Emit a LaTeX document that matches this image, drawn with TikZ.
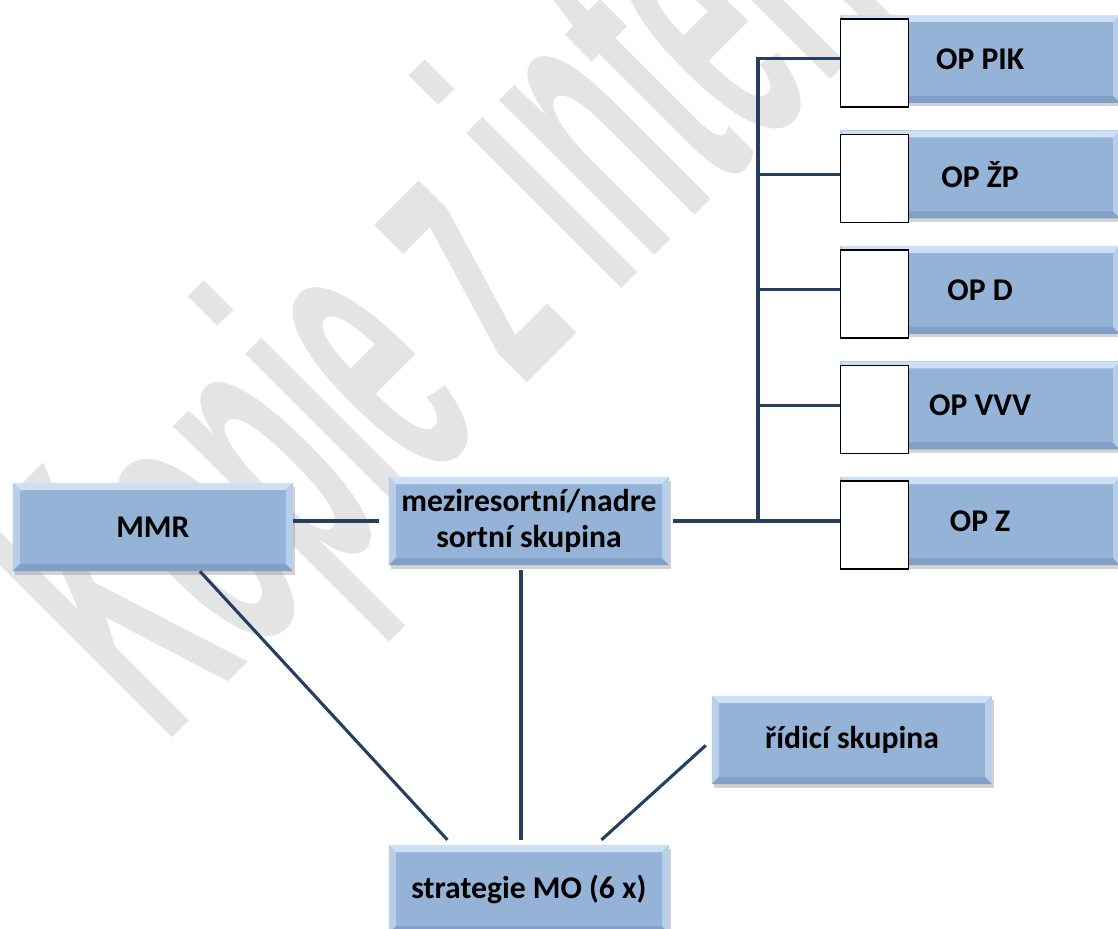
\documentclass[tikz,border=0pt]{standalone}
\usepackage{fontspec}
\setmainfont{Carlito}
\newfontfamily\wmfamily{Liberation Sans}
\usetikzlibrary{positioning,shadows}

\definecolor{boxblue}{RGB}{149,179,215}
\definecolor{boxhi}{RGB}{206,224,245}
\definecolor{boxside}{RGB}{184,206,233}
\definecolor{boxlo}{RGB}{130,160,199}
\definecolor{linkblue}{RGB}{36,63,96}
\definecolor{wmgray}{RGB}{228,228,228}

\begin{document}
\begin{tikzpicture}[x=0.025cm, y=-0.025cm,
  box/.style={rectangle, fill=boxblue, minimum width=7cm, minimum height=2.2cm, inner sep=0pt, align=center,
    drop shadow={shadow xshift=1.5pt, shadow yshift=-2.5pt, opacity=0.35},
    path picture={
      \fill[boxhi] (path picture bounding box.north west) -- (path picture bounding box.north east)
        -- ([xshift=-5pt,yshift=-5pt]path picture bounding box.north east)
        -- ([xshift=5pt,yshift=-5pt]path picture bounding box.north west) -- cycle;
      \fill[boxside] (path picture bounding box.north west) -- ([xshift=5pt,yshift=-5pt]path picture bounding box.north west)
        -- ([xshift=5pt,yshift=5pt]path picture bounding box.south west) -- (path picture bounding box.south west) -- cycle;
      \fill[boxlo] (path picture bounding box.south west) -- (path picture bounding box.south east)
        -- ([xshift=-5pt,yshift=5pt]path picture bounding box.south east)
        -- ([xshift=5pt,yshift=5pt]path picture bounding box.south west) -- cycle;
      \fill[boxside] (path picture bounding box.north east) -- ([xshift=-5pt,yshift=-5pt]path picture bounding box.north east)
        -- ([xshift=-5pt,yshift=5pt]path picture bounding box.south east) -- (path picture bounding box.south east) -- cycle;
    }},
  opbox/.style={rectangle, draw=black, line width=1pt, fill=white, minimum width=1.7cm, minimum height=2.2cm, inner sep=0pt},
  link/.style={color=linkblue, line width=2.2pt},
  wmark/.style={anchor=base west, rotate=45, yscale=2.5, inner sep=0pt, text=wmgray,
    font=\wmfamily\bfseries\fontsize{118}{120}\selectfont}]
  \tikzstyle{every node}=[font=\bfseries\fontsize{22.5}{25.6}\selectfont]

  \path[use as bounding box, fill=white] (0,0) rectangle (1118,928);
  \node[wmark] (wm) at (164,746) {Kopie z internetu};

  \node[box] (mezi) at (529,521) {meziresortní/nadre\\sortní skupina};
  \node[box, yshift=-0.15cm] (mmr) [left of=mezi, node distance=9.4cm] {MMR};
  \node[box] (strat) [below of=mezi, node distance=9.2cm] {strategie MO (6 x)};
  \node[box] (rid) at (852,740) {řídicí skupina};

  \node[box] (op5) [right of=mezi, node distance=11.275cm] {OP Z};
  \node[box] (op4) [above of=op5, node distance=2.8875cm] {OP VVV};
  \node[box] (op3) [above of=op4, node distance=2.8875cm] {OP D};
  \node[box] (op2) [above of=op3, node distance=2.8875cm] {OP ŽP};
  \node[box] (op1) [above of=op2, node distance=2.8875cm] {OP PIK};

  \node[opbox, anchor=west, yshift=-0.1cm] (sq1) at (op1.west) {};
  \node[opbox, anchor=west, yshift=-0.1cm] (sq2) at (op2.west) {};
  \node[opbox, anchor=west, yshift=-0.1cm] (sq3) at (op3.west) {};
  \node[opbox, anchor=west, yshift=-0.1cm] (sq4) at (op4.west) {};
  \node[opbox, anchor=west, yshift=-0.1cm] (sq5) at (op5.west) {};

  \coordinate (bus) at (758,0);
  \draw[link] (sq1.west |- op1.west) -| (bus |- op5.west);
  \path[link]
    (mmr.east |- mezi.west) edge[shorten >=0.25cm] (mezi.west)
    (mezi.east) edge[shorten <=0.1cm] (sq5.west |- op5.west)
    (op2.west -| bus) edge (sq2.west |- op2.west)
    (op3.west -| bus) edge (sq3.west |- op3.west)
    (op4.west -| bus) edge (sq4.west |- op4.west)
    ([xshift=-0.2cm]mezi.south) edge[shorten <=0.125cm, shorten >=0.125cm] ([xshift=-0.2cm]strat.north)
    ([xshift=1.175cm]mmr.south) edge[shorten >=0.17cm] ([xshift=-1.925cm]strat.north)
    ([xshift=1.675cm]strat.north) edge[shorten <=0.185cm, shorten >=0.2cm] (rid.west);

\end{tikzpicture}
\end{document}
